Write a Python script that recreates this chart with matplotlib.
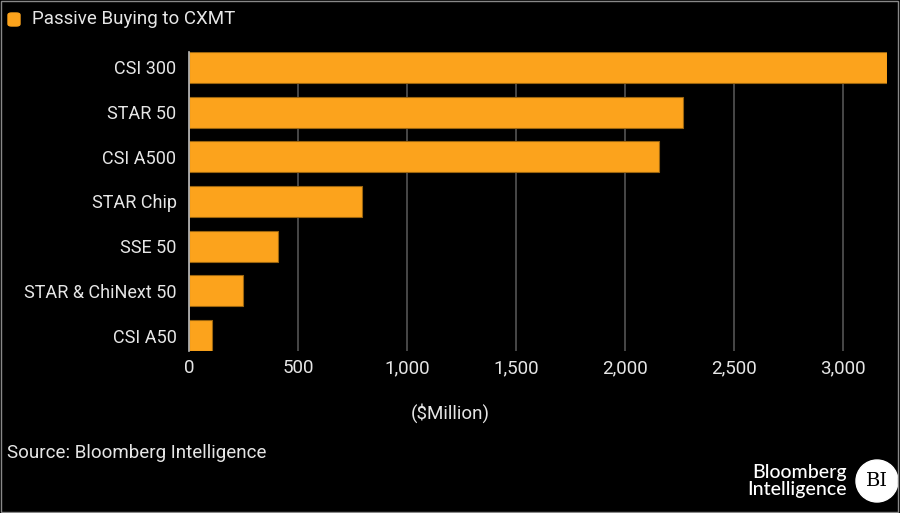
import numpy as np
import matplotlib
matplotlib.use("Agg")
import matplotlib.pyplot as plt
from matplotlib.patches import FancyBboxPatch, Rectangle, Ellipse

indices = ["CSI 300", "STAR 50", "CSI A500", "STAR Chip", "SSE 50",
           "STAR & ChiNext 50", "CSI A50"]
buying = [3200, 2265, 2156, 795, 408, 249, 107]
xticks = [0, 500, 1000, 1500, 2000, 2500, 3000]

ORANGE = "#FCA31C"
TXT = "#E6E6E6"
FS = 13.5
plt.rcParams["font.family"] = ["Roboto", "DejaVu Sans"]

fig = plt.figure(figsize=(9, 5.13), dpi=100, facecolor="black")
ax = fig.add_axes([189 / 900, 1 - 351 / 513, 698 / 900, 299 / 513])
ax.set_facecolor("black")

h = 0.69
y = np.arange(len(indices))
ax.barh(y, buying, height=h, color=ORANGE, edgecolor="#9a640f", linewidth=0.8, zorder=3)
ax.set_ylim(len(indices) - 1 + h / 2, -h / 2)
ax.set_xlim(0, 3200)

ax.set_xticks(xticks)
ax.set_xticklabels([f"{v:,}" for v in xticks])
ax.set_yticks(y)
ax.set_yticklabels(indices)
ax.tick_params(axis="both", length=0, colors=TXT)
ax.tick_params(axis="x", pad=6, labelsize=FS)
ax.tick_params(axis="y", pad=9, labelsize=13)
ax.grid(axis="x", color="#4d4d4d", linewidth=1.3, zorder=0)
for s in ["top", "right", "bottom"]:
    ax.spines[s].set_visible(False)
ax.spines["left"].set_color("#bbbbbb")
ax.spines["left"].set_linewidth(1.2)
ax.spines["left"].set_zorder(4)

fig.text(0.5, 1 - 413 / 513, "($Million)", color=TXT, fontsize=FS,
         ha="center", va="center")
fig.text(7 / 900, 1 - 453 / 513, "Source: Bloomberg Intelligence", color=TXT,
         fontsize=FS, ha="left", va="center")

# legend
fig.patches.append(FancyBboxPatch((8 / 900, 1 - 26 / 513), 12 / 900, 13 / 513,
                                  boxstyle="round,pad=0,rounding_size=0.004",
                                  transform=fig.transFigure, color=ORANGE))
fig.text(32 / 900, 1 - 19 / 513, "Passive Buying to CXMT", color=TXT,
         fontsize=FS, ha="left", va="center")

# logo
fig.text(847 / 900, 1 - 481 / 513, "Bloomberg\nIntelligence", color="white",
         fontsize=14, ha="right", va="center", linespacing=1.0,
         family=["Lato", "DejaVu Sans"], fontweight="medium")
fig.patches.append(Ellipse((877 / 900, 1 - 481 / 513), 42 / 900, 42 / 513,
                           transform=fig.transFigure, color="white"))
fig.text(877 / 900, 1 - 481 / 513, "BI", color="black", fontsize=14,
         ha="center", va="center", family=["DejaVu Serif"])

# border
fig.patches.append(Rectangle((0.001, 0.001), 0.997, 0.997, transform=fig.transFigure,
                             fill=False, edgecolor="#888888", linewidth=1))

fig.savefig("out.png", dpi=100, facecolor="black")
